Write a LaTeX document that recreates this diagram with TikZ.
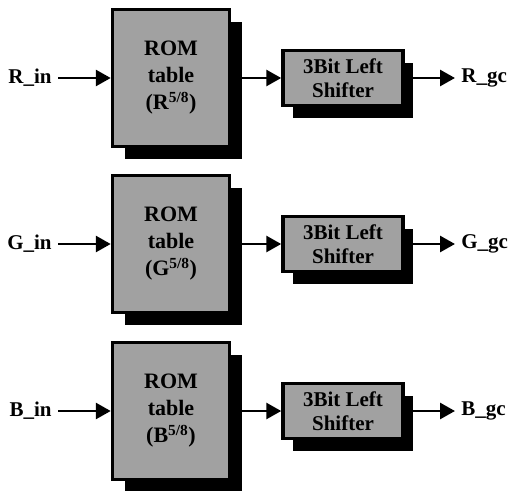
\documentclass[tikz,border=0pt]{standalone}
\usepackage{fontspec}
\setmainfont{Liberation Serif}
\usepackage{tikz}
\usetikzlibrary{arrows.meta, shadows}

\tikzset{
    rombox/.style={draw, line width=3.5pt, fill=black!37, minimum width=117pt, minimum height=137pt,
        align=center, font=\fontsize{22}{27}\selectfont\bfseries,
        drop shadow={shadow xshift=12pt, shadow yshift=-12pt, fill=black, opacity=1}},
    shiftbox/.style={draw, line width=3.5pt, fill=black!37, minimum width=120pt, minimum height=55pt,
        inner sep=1pt, align=center, font=\fontsize{21}{24}\selectfont\bfseries,
        drop shadow={shadow xshift=10pt, shadow yshift=-12pt, fill=black, opacity=1}},
    sig/.style={font=\fontsize{21}{24}\selectfont\bfseries, inner sep=5pt},
}

\begin{document}
\begin{tikzpicture}[x=1pt, y=-1pt, line width=2.8pt, >={Triangle[length=15pt, width=16pt]}]
    \useasboundingbox (0,-78) rectangle (514,412);

    % red channel
    \begin{scope}
        \node[rombox] (romR) at (171,0) {ROM\\table\\(R\textsuperscript{5/8})};
        \node[shiftbox] (shiftR) at (343,0) {3Bit Left\\Shifter};
        \node[sig, anchor=east] (inR) at (58,0) {R\_in};
        \node[sig, anchor=west] (outR) at (455,0) {R\_gc};
        \draw[->] (inR) -- (romR);
        \draw[->] (romR) -- (shiftR);
        \draw[->] (shiftR) -- (outR);
    \end{scope}

    % green channel
    \begin{scope}[yshift=-166pt]
        \node[rombox] (romG) at (171,0) {ROM\\table\\(G\textsuperscript{5/8})};
        \node[shiftbox] (shiftG) at (343,0) {3Bit Left\\Shifter};
        \node[sig, anchor=east] (inG) at (58,0) {G\_in};
        \node[sig, anchor=west] (outG) at (455,0) {G\_gc};
        \draw[->] (inG) -- (romG);
        \draw[->] (romG) -- (shiftG);
        \draw[->] (shiftG) -- (outG);
    \end{scope}

    % blue channel
    \begin{scope}[yshift=-333pt]
        \node[rombox] (romB) at (171,0) {ROM\\table\\(B\textsuperscript{5/8})};
        \node[shiftbox] (shiftB) at (343,0) {3Bit Left\\Shifter};
        \node[sig, anchor=east] (inB) at (58,0) {B\_in};
        \node[sig, anchor=west] (outB) at (455,0) {B\_gc};
        \draw[->] (inB) -- (romB);
        \draw[->] (romB) -- (shiftB);
        \draw[->] (shiftB) -- (outB);
    \end{scope}
\end{tikzpicture}
\end{document}
